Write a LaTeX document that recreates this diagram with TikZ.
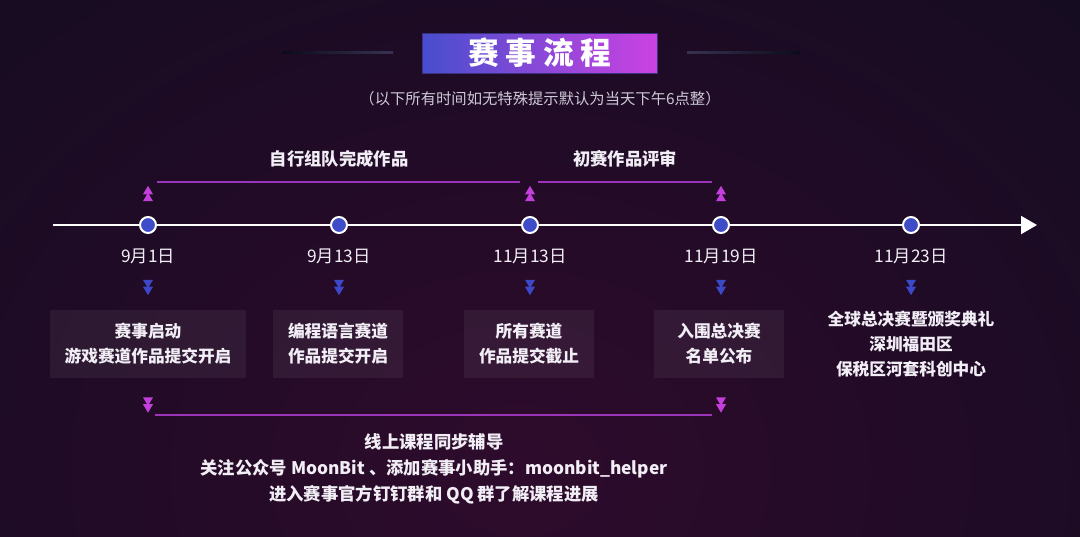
\documentclass[tikz,border=0pt]{standalone}
\usepackage{fontspec}
\setmainfont{Noto Sans CJK SC}
\usepackage{xcolor}
\usetikzlibrary{arrows.meta,calc,positioning}
\definecolor{bgdeep}{RGB}{10,12,28}
\definecolor{bgmid}{RGB}{46,11,44}
\definecolor{titleleft}{RGB}{72,78,206}
\definecolor{titleright}{RGB}{204,66,226}
\definecolor{titleedge}{RGB}{60,50,130}
\definecolor{dotblue}{RGB}{63,76,200}
\definecolor{markblue}{RGB}{59,72,200}
\definecolor{markpink}{RGB}{194,63,220}
\definecolor{barpurple}{RGB}{155,52,184}
\definecolor{sideline}{RGB}{56,50,80}
\definecolor{softwhite}{RGB}{242,238,246}
\definecolor{subgray}{RGB}{205,200,214}

\begin{document}
\begin{tikzpicture}[x=0.75pt, y=-0.75pt,
    dot/.style={circle, fill=dotblue, draw=white, line width=1.5pt, minimum size=12pt, inner sep=0pt},
    datelabel/.style={text=softwhite, font=\fontsize{13}{15}\selectfont},
    stagebox/.style={fill=white, fill opacity=0.06, text opacity=1, text=softwhite, align=center,
        minimum width=97.5pt, minimum height=51pt, inner sep=0pt, font=\bfseries\fontsize{12.5}{18.75}\selectfont},
    phaselabel/.style={text=softwhite, align=center, font=\bfseries\fontsize{13}{19.5}\selectfont},
    bar/.style={barpurple, line width=1.5pt},
    markbox/.style={minimum width=7.5pt, minimum height=11.5pt, inner sep=0pt, outer sep=0pt},
    mdown/.style={markbox, path picture={
        \fill[#1] (path picture bounding box.north west) -- (path picture bounding box.north east)
            -- ($(path picture bounding box.north)!0.55!(path picture bounding box.south)$) -- cycle;
        \fill[#1] ($(path picture bounding box.north west)!0.45!(path picture bounding box.south west)$)
            -- ($(path picture bounding box.north east)!0.45!(path picture bounding box.south east)$)
            -- (path picture bounding box.south) -- cycle;}},
    mup/.style={markbox, path picture={
        \fill[#1] (path picture bounding box.south west) -- (path picture bounding box.south east)
            -- ($(path picture bounding box.south)!0.55!(path picture bounding box.north)$) -- cycle;
        \fill[#1] ($(path picture bounding box.south west)!0.45!(path picture bounding box.north west)$)
            -- ($(path picture bounding box.south east)!0.45!(path picture bounding box.north east)$)
            -- (path picture bounding box.north) -- cycle;}}]
    \useasboundingbox (0,0) rectangle (1080,536);

    % Background
    \begin{scope}
        \clip (0,0) rectangle (1080,536);
        \fill[bgdeep] (0,0) rectangle (1080,536);
        \shade[inner color=bgmid, outer color=bgdeep] (-680,-490) rectangle (1720,1430);
    \end{scope}

    % Title
    \node[left color=titleleft, right color=titleright, draw=titleedge, line width=0.5pt,
        minimum width=176pt, minimum height=30pt, text=white,
        font=\bfseries\fontsize{23}{26}\selectfont] (title) at (540,53)
        {赛\hspace{5pt}事\hspace{5pt}流\hspace{5pt}程};
    \shade[left color=bgdeep, right color=sideline] (282,51) rectangle (393,53);
    \shade[left color=sideline, right color=bgdeep] (687,51) rectangle (800,53);
    \node[text=subgray, font=\fontsize{11.5}{13}\selectfont] (note) at (540,99)
        {（以下所有时间如无特殊提示默认为当天下午6点整）};

    % Timeline
    \coordinate (tl0) at (53,225);
    \coordinate (tl1) at (1037,225);
    \draw[white, line width=1.5pt, -{Triangle[length=12pt,width=13.5pt]}] (tl0) -- (tl1);
    \node[dot] (d1) at (148,225) {};
    \node[dot] (d2) at (339,225) {};
    \node[dot] (d3) at (530,225) {};
    \node[dot] (d4) at (721,225) {};
    \node[dot] (d5) at (911,225) {};

    % Dates
    \node[datelabel] (t1) at (148,256) {9月1日};
    \node[datelabel] (t2) at (339,256) {9月13日};
    \node[datelabel] (t3) at (530,256) {11月13日};
    \node[datelabel] (t4) at (721,256) {11月19日};
    \node[datelabel] (t5) at (911,256) {11月23日};

    % Blue markers
    \node[mdown=markblue] (a1) at (148,287.5) {};
    \node[mdown=markblue] (a2) at (339,287.5) {};
    \node[mdown=markblue] (a3) at (530,287.5) {};
    \node[mdown=markblue] (a4) at (721,287.5) {};
    \node[mdown=markblue] (a5) at (911,287.5) {};

    % Stages
    \node[stagebox, minimum width=147pt] (s1) at (148,344) {赛事启动\\游戏赛道作品提交开启};
    \node[stagebox] (s2) at (338,344) {编程语言赛道\\作品提交开启};
    \node[stagebox] (s3) at (529,344) {所有赛道\\作品提交截止};
    \node[stagebox] (s4) at (719,344) {入围总决赛\\名单公布};
    \node[phaselabel, font=\bfseries\fontsize{12.5}{18.75}\selectfont] (s5) at (911,344)
        {全球总决赛暨颁奖典礼\\深圳福田区\\保税区河套科创中心};

    % Phases above
    \node[mup=markpink] (u1) at (148,193.5) {};
    \node[mup=markpink] (u2) at (530,193.5) {};
    \node[mup=markpink] (u3) at (721,193.5) {};
    \coordinate (g1a) at (157,182);
    \coordinate (g1b) at (520,182);
    \coordinate (g2a) at (538,182);
    \coordinate (g2b) at (712,182);
    \draw[bar] (g1a) -- (g1b);
    \draw[bar] (g2a) -- (g2b);
    \node[phaselabel] (p1) at (339,159) {自行组队完成作品};
    \node[phaselabel] (p2) at (625,159) {初赛作品评审};

    % Phase below
    \node[mdown=markpink] (w1) at (148,405) {};
    \node[mdown=markpink] (w2) at (721,405) {};
    \coordinate (g3a) at (155,415);
    \coordinate (g3b) at (712,415);
    \draw[bar] (g3a) -- (g3b);
    \node[phaselabel] (p3) at (434,469)
        {线上课程同步辅导\\关注公众号 MoonBit 、添加赛事小助手：moonbit\_helper\\进入赛事官方钉钉群和 QQ 群了解课程进展};
\end{tikzpicture}
\end{document}
